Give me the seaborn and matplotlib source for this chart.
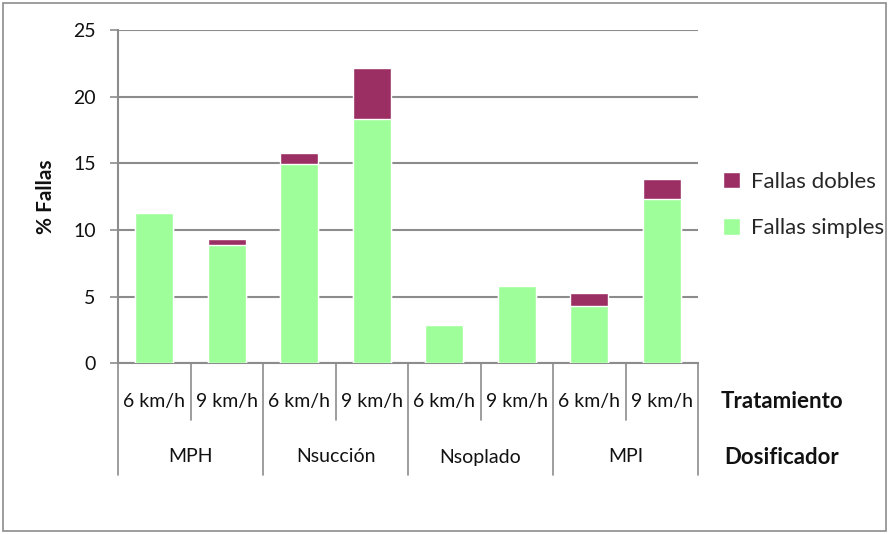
import matplotlib
matplotlib.use("Agg")
import matplotlib.pyplot as plt
import matplotlib.transforms as mtransforms
from matplotlib.patches import Rectangle, Patch
import seaborn as sns
import pandas as pd

# Failure percentages per seed metering unit and travel speed
dosificadores = ["MPH", "Nsucción", "Nsoplado", "MPI"]
tratamientos = ["6 km/h", "9 km/h"]
fallas_simples = [11.3, 8.85, 14.95, 18.3, 2.85, 5.8, 4.3, 12.3]
fallas_dobles = [0.0, 0.5, 0.8, 3.85, 0.0, 0.0, 1.0, 1.55]

color_simples = "#9EFF9A"
color_dobles = "#9B2F63"
grid_grey = "#8C8C8C"

sns.set_theme(style="white")
plt.rcParams["font.family"] = ["Lato", "DejaVu Sans"]

labels = [f"{d}|{t}" for d in dosificadores for t in tratamientos]
totales = [s + d for s, d in zip(fallas_simples, fallas_dobles)]
df = pd.DataFrame({"grupo": labels, "simples": fallas_simples, "total": totales})

fig = plt.figure(figsize=(8.9, 5.34), dpi=100)
ax = fig.add_axes([118 / 890, 1 - 363.3 / 534, 580 / 890, 333.3 / 534])

sns.barplot(data=df, x="grupo", y="total", color=color_dobles, width=0.52,
            saturation=1, ax=ax, zorder=3)
sns.barplot(data=df, x="grupo", y="simples", color=color_simples, width=0.52,
            saturation=1, ax=ax, zorder=4)

ax.set_ylim(0, 25)
ax.set_xlim(-0.5, len(labels) - 0.5)
ax.set_yticks([0, 5, 10, 15, 20, 25])
ax.set_yticklabels(["0", "5", "10", "15", "20", "25"], fontsize=14, color="#111111")
ax.yaxis.grid(True, color=grid_grey, linewidth=1.5, zorder=0)
ax.set_axisbelow(True)
ax.tick_params(axis="y", left=True, length=6, width=1.2, color=grid_grey, pad=10)
ax.set_xticks([])
ax.set_xlabel("")
ax.set_ylabel("% Fallas", fontsize=15, fontweight="bold", labelpad=12, color="#111111")
for side in ["top", "right"]:
    ax.spines[side].set_visible(False)
for side in ["left", "bottom"]:
    ax.spines[side].set_color(grid_grey)
    ax.spines[side].set_linewidth(1.5)

# Two-level category axis drawn below the plot
trans = mtransforms.blended_transform_factory(ax.transData, fig.transFigure)
y0 = 1 - 363.3 / 534
y_mid = 1 - 420 / 534
y_bot = 1 - 475 / 534
n = len(labels)
for i in range(n + 1):
    x = i - 0.5
    y_end = y_bot if i % 2 == 0 else y_mid
    ax.plot([x, x], [y0, y_end], transform=trans, color=grid_grey,
            linewidth=1.2, clip_on=False)
for i, lab in enumerate(labels):
    t = lab.split("|")[1]
    ax.text(i, 1 - 401 / 534, t, transform=trans, ha="center", va="center",
            fontsize=14, color="#111111")
for j, d in enumerate(dosificadores):
    ax.text(2 * j + 0.5, 1 - 457 / 534, d, transform=trans, ha="center",
            va="center", fontsize=14, color="#111111")
fig.text(782 / 890, 1 - 401 / 534, "Tratamiento", ha="center", va="center",
         fontsize=16, fontweight="bold", color="#111111")
fig.text(782 / 890, 1 - 457 / 534, "Dosificador", ha="center", va="center",
         fontsize=16, fontweight="bold", color="#111111")

handles = [Patch(facecolor=color_dobles, label="Fallas dobles"),
           Patch(facecolor=color_simples, label="Fallas simples")]
fig.legend(handles=handles, loc="center left", bbox_to_anchor=(723 / 890, 1 - 205 / 534),
           frameon=False, fontsize=16, handlelength=0.75, handleheight=0.75,
           handletextpad=0.5, labelspacing=1.2, borderpad=0, borderaxespad=0)

fig.patches.append(Rectangle((3 / 890, 3 / 534), 883 / 890, 528 / 534,
                             transform=fig.transFigure, fill=False,
                             edgecolor="#8C8C8C", linewidth=1.2))

fig.savefig("out.png", dpi=100)
